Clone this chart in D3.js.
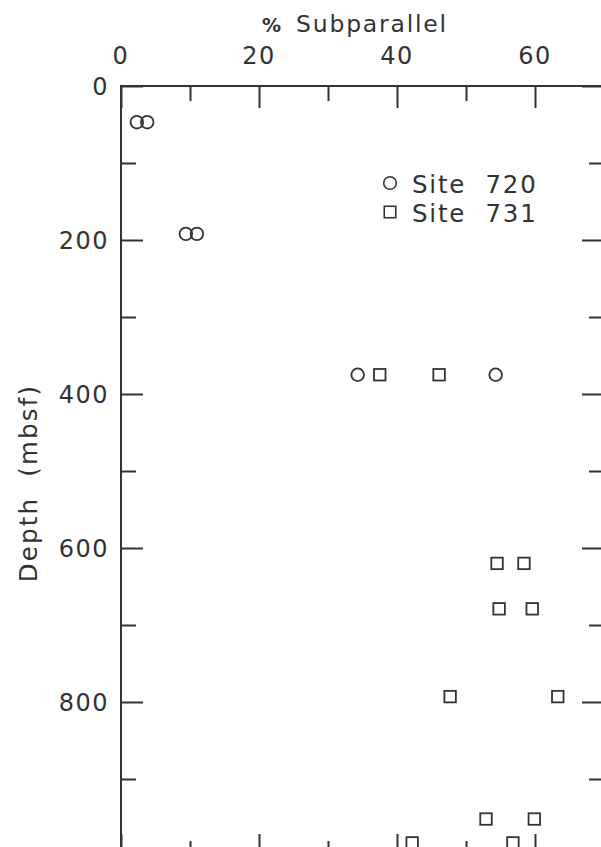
<!DOCTYPE html>
<html>
<head>
<meta charset="utf-8">
<script src="https://cdn.jsdelivr.net/npm/d3@7"></script>
<style>
  html, body { margin: 0; padding: 0; background: #fff; }
  svg { display: block; }
  text { font-family: "DejaVu Sans", sans-serif; fill: #333; }
</style>
</head>
<body>
<svg id="chart" width="601" height="847"></svg>
<script>
// ---- data ----
const site720Depth = [47, 47, 192, 192, 375, 375];
const site720Pct   = [2.3, 3.8, 9.4, 11.0, 34.3, 54.3];
const site731Depth = [375, 375, 620, 620, 679, 679, 793, 793, 952, 952, 983, 983];
const site731Pct   = [37.5, 46.1, 54.5, 58.4, 54.8, 59.6, 47.7, 63.3, 52.9, 59.9, 42.2, 56.8];
const xTickLabels = [0, 20, 40, 60];
const yTickLabels = [0, 200, 400, 600, 800];
const legendLabels = ["Site  720", "Site  731"];

// ---- layout ----
const svg = d3.select("#chart");
const ink = "#333";
const x = d3.scaleLinear().domain([0, 70]).range([121, 604]);
const y = d3.scaleLinear().domain([0, 1000]).range([86, 856]);

const g = svg.append("g");

// frame
g.append("rect")
  .attr("x", x(0)).attr("y", y(0))
  .attr("width", x(70) - x(0)).attr("height", y(1000) - y(0))
  .attr("fill", "none").attr("stroke", ink).attr("stroke-width", 2);

// ticks (inward) using d3 axes
const xMajor = d3.range(0, 71, 20), xMinor = d3.range(10, 71, 20);
const yMajor = d3.range(0, 1001, 200), yMinor = d3.range(100, 1001, 200);

function styleAxis(sel) {
  sel.select(".domain").remove();
  sel.selectAll(".tick line").attr("stroke", ink).attr("stroke-width", 2);
  sel.selectAll(".tick text").remove();
}
// top
g.append("g").attr("transform", `translate(0,${y(0)})`)
  .call(d3.axisBottom(x).tickValues(xMajor).tickSize(22)).call(styleAxis);
g.append("g").attr("transform", `translate(0,${y(0)})`)
  .call(d3.axisBottom(x).tickValues(xMinor).tickSize(15)).call(styleAxis);
// bottom
g.append("g").attr("transform", `translate(0,${y(1000)})`)
  .call(d3.axisTop(x).tickValues(xMajor).tickSize(22)).call(styleAxis);
g.append("g").attr("transform", `translate(0,${y(1000)})`)
  .call(d3.axisTop(x).tickValues(xMinor).tickSize(15)).call(styleAxis);
// left
g.append("g").attr("transform", `translate(${x(0)},0)`)
  .call(d3.axisRight(y).tickValues(yMajor).tickSize(22)).call(styleAxis);
g.append("g").attr("transform", `translate(${x(0)},0)`)
  .call(d3.axisRight(y).tickValues(yMinor).tickSize(15)).call(styleAxis);
// right
g.append("g").attr("transform", `translate(${x(70)},0)`)
  .call(d3.axisLeft(y).tickValues(yMajor).tickSize(22)).call(styleAxis);
g.append("g").attr("transform", `translate(${x(70)},0)`)
  .call(d3.axisLeft(y).tickValues(yMinor).tickSize(15)).call(styleAxis);

// tick labels
g.selectAll(".xlab").data(xTickLabels).join("text")
  .attr("x", d => x(d)).attr("y", 64)
  .attr("text-anchor", "middle").attr("font-size", 24)
  .attr("letter-spacing", 1.5)
  .text(d => d);
g.selectAll(".ylab").data(yTickLabels).join("text")
  .attr("x", 109).attr("y", d => y(d) + 9)
  .attr("text-anchor", "end").attr("font-size", 24)
  .attr("letter-spacing", 1.5)
  .text(d => d);

// axis titles
g.append("text").attr("x", 262).attr("y", 32).attr("font-size", 19).attr("font-weight", "bold").text("%");
g.append("text").attr("x", 296).attr("y", 32).attr("font-size", 23.5)
  .attr("letter-spacing", 1.8).text("Subparallel");
g.append("text")
  .attr("transform", `translate(37,483) rotate(-90)`)
  .attr("text-anchor", "middle").attr("font-size", 24.5)
  .attr("letter-spacing", 2.2).attr("xml:space", "preserve")
  .text("Depth  (mbsf)");

// markers
const r = 6.3, s = 11.5;
g.selectAll(".c720").data(site720Depth).join("circle")
  .attr("cx", (d, i) => x(site720Pct[i])).attr("cy", d => y(d)).attr("r", r)
  .attr("fill", "none").attr("stroke", ink).attr("stroke-width", 1.8);
g.selectAll(".s731").data(site731Depth).join("rect")
  .attr("x", (d, i) => x(site731Pct[i]) - s / 2).attr("y", d => y(d) - s / 2)
  .attr("width", s).attr("height", s)
  .attr("fill", "none").attr("stroke", ink).attr("stroke-width", 1.8);

// legend
const leg = g.append("g");
leg.append("circle").attr("cx", 390).attr("cy", 183).attr("r", r)
  .attr("fill", "none").attr("stroke", ink).attr("stroke-width", 1.6);
leg.append("rect").attr("x", 390 - s / 2).attr("y", 212 - s / 2).attr("width", s).attr("height", s)
  .attr("fill", "none").attr("stroke", ink).attr("stroke-width", 1.6);
leg.selectAll(".lt").data(legendLabels).join("text")
  .attr("x", 412).attr("y", (d, i) => 193 + i * 29)
  .attr("font-size", 24.5).attr("letter-spacing", 1.8)
  .attr("xml:space", "preserve")
  .text(d => d);
</script>
</body>
</html>
